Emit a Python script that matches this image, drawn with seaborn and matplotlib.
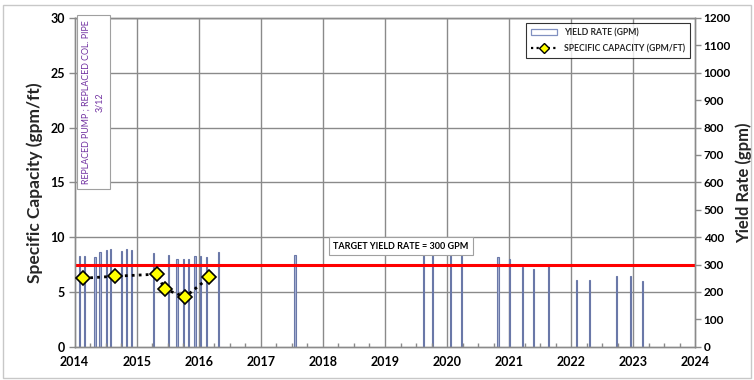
import matplotlib
matplotlib.use("Agg")
import matplotlib.pyplot as plt
import seaborn as sns
import numpy as np
import pandas as pd
from matplotlib.patches import Rectangle, Patch
from matplotlib.lines import Line2D

# ---- data (decimal years) ----
yield_dates = [2014.075, 2014.16, 2014.33, 2014.41, 2014.51, 2014.58, 2014.75, 2014.84, 2014.92,
               2015.27, 2015.51, 2015.65, 2015.76, 2015.83, 2015.94, 2016.03, 2016.12, 2016.32,
               2017.55, 2019.62, 2019.77, 2020.06, 2020.23, 2020.82, 2021.00, 2021.21, 2021.39,
               2021.63, 2022.09, 2022.30, 2022.73, 2022.96, 2023.15]
yield_gpm = [330, 330, 327, 345, 354, 355, 349, 355, 352,
             343, 333, 321, 321, 321, 330, 330, 327, 345,
             333, 378, 366, 357, 357, 328, 321, 292, 282,
             297, 245, 245, 257, 257, 239]

sc_dates = [2014.14, 2014.65, 2015.33, 2015.45, 2015.78, 2016.17]
sc_values = [6.25, 6.43, 6.62, 5.27, 4.54, 6.34]

target_yield = 300
year_ticks = list(range(2014, 2025))

sns.set_theme(style="white")
plt.rcParams['font.family'] = ['Lato', 'DejaVu Sans']

fig = plt.figure(figsize=(7.54, 3.8), dpi=100)
ax = fig.add_axes([74.6/754, 1-346.7/380, (695.4-74.6)/754, (346.7-18)/380])
ax2 = ax.twinx()
ax.set_zorder(ax2.get_zorder() + 1)
ax.patch.set_visible(False)
ax2.patch.set_facecolor("white")

grid_c = "#8a8a8a"
ax2.set_ylim(0, 1200)
ax2.set_yticks(range(0, 1201, 100))
for yv in range(200, 1201, 200):
    ax2.axhline(yv, color=grid_c, lw=1.0, zorder=0)
for xv in year_ticks[1:-1]:
    ax2.axvline(xv, color=grid_c, lw=1.0, zorder=0)

# yield bars
ax2.bar(yield_dates, yield_gpm, width=0.02, color="#aab3d3", edgecolor="#6a78a8",
        linewidth=0.8, zorder=2)
ax2.axhline(target_yield, color="#ff0000", lw=2.2, zorder=3)

# specific capacity line
df = pd.DataFrame({"date": sc_dates, "sc": sc_values})
sns.lineplot(data=df, x="date", y="sc", ax=ax, color="black", linestyle=(0, (1, 1.5)),
             lw=2.0, marker="D", markersize=7, markerfacecolor="#ffff00",
             markeredgecolor="black", markeredgewidth=1.2, zorder=5)

ax.set_xlim(2014, 2024)
ax.set_ylim(0, 30)
ax.set_yticks(range(0, 31, 5))
ax.set_xticks(year_ticks)
ax.set_xticks(np.arange(2014, 2024.01, 0.25), minor=True)
ax.set_xlabel("")
ax.set_ylabel("Specific Capacity (gpm/ft)", fontsize=12.5, fontweight="bold", labelpad=5)
ax2.set_ylabel("Yield Rate (gpm)", fontsize=12, fontweight="bold", labelpad=3)

for a in (ax, ax2):
    for s in a.spines.values():
        s.set_color(grid_c)
        s.set_linewidth(1.0)
    a.tick_params(axis="both", labelsize=9, colors="black", length=4, width=1, pad=3)
    for lab in a.get_xticklabels() + a.get_yticklabels():
        lab.set_fontweight("bold")
ax.tick_params(axis="x", which="major", direction="inout", length=6, color=grid_c, pad=4)
ax.tick_params(axis="x", which="minor", direction="in", length=3, color=grid_c, bottom=True)
ax.tick_params(axis="y", direction="out", length=4, color=grid_c, left=True)
ax2.tick_params(axis="y", direction="out", length=4, color=grid_c, right=True, labelsize=8.5, pad=2)
for lab in ax2.get_yticklabels():
    lab.set_fontweight("bold")

# annotations
ax.text(0.03, 0.745, "REPLACED PUMP ; REPLACED COL. PIPE\n3/12", transform=ax.transAxes,
        rotation=90, ha="center", va="center", fontsize=6.4, color="#7030a0",
        multialignment="center", linespacing=1.6,
        bbox=dict(boxstyle="square,pad=0.6", fc="white", ec="#a0a0a0", lw=0.8), zorder=6)
ax.text(0.526, 0.306, "TARGET YIELD RATE = 300 GPM", transform=ax.transAxes,
        ha="center", va="center", fontsize=6.5, color="black", fontweight="bold",
        bbox=dict(boxstyle="square,pad=0.5", fc="white", ec="#a0a0a0", lw=0.8), zorder=6)

handles = [Patch(facecolor="white", edgecolor="#8090c0", lw=0.9),
           Line2D([0], [0], color="black", linestyle=(0, (1, 1.5)), lw=1.6, marker="D",
                  markersize=5, markerfacecolor="#ffff00", markeredgecolor="black")]
leg = ax.legend(handles, ["YIELD RATE (GPM)", "SPECIFIC CAPACITY (GPM/FT)"], loc="upper right",
                fontsize=6.2, frameon=True, fancybox=False, edgecolor="black",
                borderaxespad=0.6, handlelength=3, labelspacing=0.8, borderpad=0.6)
leg.get_frame().set_linewidth(0.8)
for t in leg.get_texts():
    t.set_fontweight("bold")

fig.patches.append(Rectangle((0.004, 0.004), 0.992, 0.983, transform=fig.transFigure,
                             fill=False, ec="#c8c8c8", lw=1.0))

fig.savefig("out.png", dpi=100, facecolor="white")
